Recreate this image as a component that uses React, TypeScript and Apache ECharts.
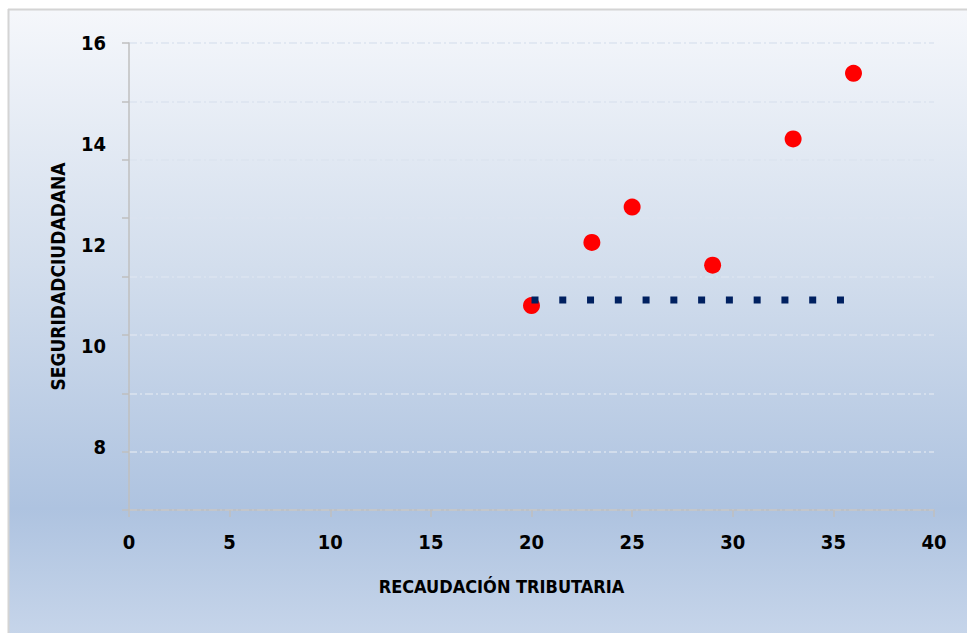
import React, { useEffect, useRef } from "react";
import * as echarts from "echarts";

// Data
const recaudacion = [20, 23, 25, 29, 33, 36];
const seguridad = [10.8, 12.05, 12.75, 11.6, 14.1, 15.4];
const refLineX = [20, 35.55];
const refLineY = [10.91, 10.91];
const yTickLabels = [8, 10, 12, 14, 16];

const FONT = "'Liberation Sans Narrow', 'DejaVu Sans Condensed', 'Open Sans', sans-serif";
const AXIS_GRAY = "#BFBFBF";
const GRID_LINE = "#DCE4EF";

export default function App() {
  const ref = useRef<HTMLDivElement>(null);

  useEffect(() => {
    if (!ref.current) return;
    const chart = echarts.init(ref.current, undefined, { renderer: "svg" });
    const scatterData = recaudacion.map((x, i) => [x, seguridad[i]]);
    const lineData = refLineX.map((x, i) => [x, refLineY[i]]);

    chart.setOption({
      animation: false,
      graphic: [
        {
          type: "rect",
          z: -100,
          silent: true,
          shape: { x: 9, y: 9.5, width: 980, height: 640 },
          style: {
            fill: new echarts.graphic.LinearGradient(0, 0, 0, 1, [
              { offset: 0, color: "#F5F7FB" },
              { offset: 0.4, color: "#D3DEED" },
              { offset: 0.78, color: "#AEC3E0" },
              { offset: 1, color: "#C9D7EB" },
            ]),
          },
        },
        {
          type: "line",
          z: -99,
          silent: true,
          shape: { x1: 8, y1: 9.5, x2: 967, y2: 9.5 },
          style: { stroke: "#D4D4D4", lineWidth: 2 },
        },
        {
          type: "line",
          z: -99,
          silent: true,
          shape: { x1: 8.5, y1: 9, x2: 8.5, y2: 633 },
          style: { stroke: "#D4D4D4", lineWidth: 2 },
        },
      ],
      grid: { left: 129, right: 33, top: 43, bottom: 123, containLabel: false },
      xAxis: {
        type: "value",
        min: 0,
        max: 40,
        interval: 5,
        name: "RECAUDACIÓN TRIBUTARIA",
        nameLocation: "middle",
        nameGap: 67,
        nameTextStyle: {
          fontFamily: FONT,
          fontWeight: "bold",
          fontSize: 18,
          color: "#000",
          padding: [0, 60, 0, 0],
        },
        axisLine: { show: true, onZero: false, lineStyle: { color: AXIS_GRAY, width: 1.5 } },
        axisTick: { show: true, inside: false, length: 7, lineStyle: { color: AXIS_GRAY, width: 1.5 } },
        axisLabel: { fontFamily: FONT, fontWeight: "bold", fontSize: 20, color: "#000", margin: 22 },
        splitLine: { show: false },
      },
      yAxis: [
        {
          type: "value",
          position: "left",
          min: 6.752,
          max: 16,
          name: "SEGURIDADCIUDADANA",
          nameLocation: "middle",
          nameRotate: 90,
          nameGap: 62,
          nameTextStyle: { fontFamily: FONT, fontWeight: "bold", fontSize: 19, color: "#000" },
          axisLine: { show: true, onZero: false, lineStyle: { color: AXIS_GRAY, width: 1.5 } },
          axisTick: { show: false },
          axisLabel: {
            customValues: yTickLabels,
            fontFamily: FONT,
            fontWeight: "bold",
            fontSize: 20,
            color: "#000",
            margin: 23,
          },
          splitLine: { show: false },
        },
        {
          type: "value",
          position: "left",
          min: 0,
          max: 8,
          interval: 1,
          axisLine: { show: false },
          axisTick: { show: true, inside: false, length: 7, lineStyle: { color: AXIS_GRAY, width: 1.5 } },
          axisLabel: { show: false },
          splitLine: {
            show: true,
            lineStyle: { color: GRID_LINE, width: 1.5, type: [8, 3, 2, 3] },
          },
        },
      ],
      series: [
        {
          type: "scatter",
          yAxisIndex: 0,
          data: scatterData,
          symbol: "circle",
          symbolSize: 17,
          itemStyle: { color: "#FF0000", opacity: 1 },
          silent: true,
        },
        {
          type: "line",
          yAxisIndex: 0,
          data: lineData,
          symbol: "none",
          lineStyle: { color: "#002060", width: 7, type: [7, 20.77], cap: "butt" },
          silent: true,
          z: 3,
        },
      ],
    });
    return () => chart.dispose();
  }, []);

  return (
    <div
      ref={ref}
      style={{ position: "fixed", left: 0, top: 0, width: 967, height: 633, background: "#fff" }}
    />
  );
}
